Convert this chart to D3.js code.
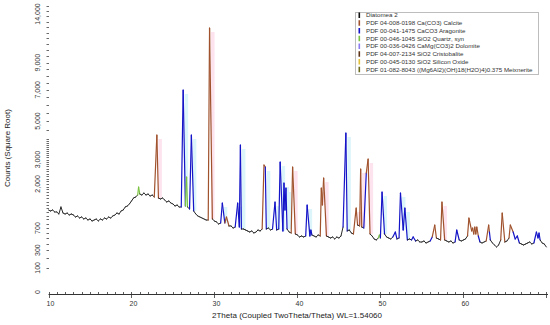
<!DOCTYPE html>
<html>
<head>
<meta charset="utf-8">
<script src="https://cdn.jsdelivr.net/npm/d3@7"></script>
<style>
	body { margin: 0; background: #fff; }
	svg { display: block; font-family: "Liberation Sans", Arial, sans-serif; }
</style>
</head>
<body>
<div id="chart"></div>
<script>
// phases of the pattern (legend order)
var phase_names = [
	'Diatomea 2',
	'PDF 04-008-0198 Ca(CO3) Calcite',
	'PDF 00-041-1475 CaCO3 Aragonite',
	'PDF 00-046-1045 SiO2 Quartz, syn',
	'PDF 00-036-0426 CaMg(CO3)2 Dolomite',
	'PDF 04-007-2134 SiO2 Cristobalite',
	'PDF 00-045-0130 SiO2 Silicon Oxide',
	'PDF 01-082-8043 ((Mg6Al2)(OH)18(H2O)4)0.375 Meixnerite'
];

// measured background (2theta, counts)
var bg_theta = [
	10.00,10.25,10.50,10.75,11.00,11.25,11.50,11.75,12.00,12.25,12.50,12.75,
	13.00,13.25,13.50,13.75,14.00,14.25,14.50,14.75,15.00,15.25,15.50,15.75,
	16.00,16.25,16.50,16.75,17.00,17.25,17.50,17.75,18.00,18.25,18.50,18.75,
	19.00,19.25,19.50,19.75,20.00,20.25,20.50,20.75,21.00,21.25,21.50,21.75,
	22.00,22.25,22.50,22.75,23.25,23.50,23.75,24.00,24.25,24.50,24.75,
	25.00,25.25,25.50,25.75,26.00,26.50,26.75,27.00,27.50,27.75,
	28.00,28.25,28.50,28.75,29.00,29.25,29.75,30.00,30.25,30.50,30.75,
	31.25,31.75,32.00,32.25,32.50,33.00,33.25,33.50,33.75,
	34.00,34.25,34.50,34.75,35.00,35.25,35.50,35.75,36.25,36.50,36.75,
	37.00,37.50,37.75,38.25,38.50,38.75,39.00,39.25,39.75,
	40.00,40.25,40.50,40.75,41.00,41.50,41.75,42.00,42.25,42.50,42.75,
	43.00,43.50,43.75,44.00,44.25,44.50,44.75,45.00,45.25,45.50,
	46.00,46.25,46.50,46.75,47.25,47.50,47.75,48.00,48.75,
	49.00,49.25,49.50,49.75,50.00,50.50,50.75,51.00,51.25,51.50,
	52.00,52.25,52.75,53.25,53.50,53.75,54.25,54.50,54.75,
	55.00,55.25,55.50,55.75,56.00,56.75,57.00,57.25,57.75,
	58.00,58.25,58.50,58.75,59.00,59.50,59.75,60.00,60.25,60.50,
	61.00,61.25,61.50,62.00,62.25,62.50,62.75,63.25,63.50,63.75,
	64.00,64.25,64.50,65.00,65.25,65.50,66.25,66.75,
	67.00,67.25,67.50,67.75,68.00,68.25,68.50,69.00,69.25,69.50,69.75,70.00
];
var bg_counts = [
	1151,1123,1151,1095,1095,1041,1237,1068,1041,1068,1015,1041,
	1015,963,989,937,963,912,937,887,912,863,887,912,
	863,912,887,937,912,963,937,989,1015,1068,1041,1123,
	1151,1237,1266,1325,1417,1512,1545,1610,1644,1610,1677,1610,
	1644,1577,1610,1545,1512,1480,1512,1449,1386,1417,1356,
	1325,1266,1295,1237,1237,1266,1237,1179,1123,1041,
	989,963,937,912,887,887,912,863,839,791,815,
	815,746,746,701,723,723,679,679,658,
	637,616,637,596,616,658,637,679,679,701,658,
	679,658,679,637,1151,679,616,596,576,
	556,518,537,518,537,537,556,537,518,556,537,
	1295,537,518,499,518,481,518,499,537,723,
	637,658,596,576,768,746,723,701,576,
	537,481,463,499,499,576,518,499,481,518,
	481,499,658,463,481,463,445,463,428,
	428,445,411,428,445,499,481,463,463,
	445,428,445,411,428,463,445,463,481,537,
	637,576,576,428,411,428,445,463,411,378,
	347,378,463,428,445,499,481,411,
	394,378,394,411,428,394,411,499,463,411,394,347
];

// identified reflections (apex 2theta, apex counts, phase index)
var peak_theta = [
	20.86,23.06,26.23,26.64,27.22,29.41,30.95,31.45,32.80,33.13,
	35.97,36.13,37.30,37.92,38.38,38.62,39.42,41.17,41.62,42.88,
	43.16,45.84,47.08,47.62,48.30,48.52,49.88,50.20,51.80,52.42,
	52.95,53.95,56.25,56.55,57.42,59.20,60.67,61.12,61.38,61.62,
	61.80,63.05,63.14,64.68,65.66,66.00,66.50,68.80,69.12
];
var peak_counts = [
	1887,4219,6983,2263,4219,11928,1356,963,1356,3698,
	2760,2674,1386,2892,2033,1851,2674,1295,658,1851,
	2224,4327,1208,2589,2424,3027,556,1711,616,1677,
	1208,518,518,768,1386,658,937,701,723,723,
	537,768,616,1068,768,616,537,616,596
];
var peak_phase = [
	3,1,2,3,2,1,2,1,2,2,
	1,2,2,2,2,2,1,2,2,1,
	1,2,1,1,2,1,3,2,2,2,
	2,2,2,1,1,2,1,1,1,1,
	2,1,2,1,1,2,2,2,2
];

// axis labels
var x_ticks = [10, 20, 30, 40, 50, 60];
var y_ticks = [0, 100, 300, 700, 2000, 3000, 5000, 7000, 9000, 14000];

var phase_colors = ['#111111', '#a0522d', '#1414c8', '#7cc242', '#8a7cf0', '#5c3317', '#e2c13a', '#6b6b1e'];
var band_colors  = { 1: '#fde3ee', 2: '#dcf5fa' };

var chart_width  = 550;
var chart_height = 325;
var axis_y       = 294;

var svg = d3.select('#chart')
	.append('svg')
	.attr('width', chart_width)
	.attr('height', chart_height);

var x_scale = d3.scaleLinear().domain([10, 70.2]).range([48.5, 548]);
var y_scale = d3.scaleSqrt().domain([0, 14000]).range([292, 6]);

// merge background and reflections into one profile
var profile = [];
bg_theta.forEach(function(t, i){ profile.push({ t: t, c: bg_counts[i], p: 0 }); });
peak_theta.forEach(function(t, i){ profile.push({ t: t, c: peak_counts[i], p: peak_phase[i] }); });
profile.sort(function(a, b){ return a.t - b.t; });

svg.append('clipPath').attr('id', 'plot')
	.append('rect').attr('x', 48).attr('y', 0).attr('width', 501).attr('height', axis_y);

var plot = svg.append('g').attr('clip-path', 'url(#plot)');

// faint reference bands behind strong reflections
var bands = profile.map(function(d, i){ return { d: d, next: profile[i + 1] }; })
	.filter(function(o){ return o.d.p && band_colors[o.d.p] && o.d.c > 1200; });

plot.selectAll('.band')
	.data(bands)
	.enter()
	.append('rect')
	.attr('class', 'band')
	.attr('x', function(o){ return x_scale(o.d.t) + 1.5; })
	.attr('y', function(o){ return y_scale(o.d.c) + 4; })
	.attr('width', 3.5)
	.attr('height', function(o){ return Math.max(0, y_scale(o.next.c) - y_scale(o.d.c) - 4); })
	.attr('fill', function(o){ return band_colors[o.d.p]; });

// profile drawn segment by segment, coloured by phase of the reflection
var segs = d3.pairs(profile);
plot.selectAll('.seg')
	.data(segs)
	.enter()
	.append('line')
	.attr('class', 'seg')
	.attr('x1', function(s){ return x_scale(s[0].t); })
	.attr('y1', function(s){ return y_scale(s[0].c); })
	.attr('x2', function(s){ return x_scale(s[1].t); })
	.attr('y2', function(s){ return y_scale(s[1].c); })
	.attr('stroke', function(s){
		var top = s[1].c > s[0].c ? s[1] : s[0];
		var other = top === s[1] ? s[0] : s[1];
		var p = top.p || other.p;
		return phase_colors[p];
	})
	.attr('stroke-width', function(s){ return (s[0].p || s[1].p) ? 1.2 : 0.9; })
	.attr('stroke-linecap', 'round');

// x axis
svg.append('line')
	.attr('x1', 48.5).attr('x2', 548)
	.attr('y1', axis_y + 0.5).attr('y2', axis_y + 0.5)
	.attr('stroke', '#333');

svg.selectAll('.xminor')
	.data(d3.range(10, 71, 1))
	.enter()
	.append('line')
	.attr('x1', function(d){ return Math.round(x_scale(d)) + 0.5; })
	.attr('x2', function(d){ return Math.round(x_scale(d)) + 0.5; })
	.attr('y1', axis_y - 2)
	.attr('y2', function(d){ return d % 10 === 0 ? axis_y + 4 : axis_y; })
	.attr('stroke', '#333')
	.attr('stroke-width', 0.8);

svg.selectAll('.xlab')
	.data(x_ticks)
	.enter()
	.append('text')
	.attr('x', function(d){ return x_scale(d) + 2; })
	.attr('y', 306)
	.attr('font-size', 7)
	.attr('fill', '#333')
	.attr('text-anchor', 'middle')
	.text(function(d){ return d; });

svg.append('text')
	.attr('x', 297)
	.attr('y', 318)
	.attr('font-size', 8)
	.attr('fill', '#222')
	.attr('text-anchor', 'middle')
	.text('2Theta (Coupled TwoTheta/Theta) WL=1.54060');

// y axis (ticks only)
var minor = d3.range(100, 4000, 100).concat(d3.range(4000, 14001, 500));
svg.selectAll('.yminor')
	.data(minor)
	.enter()
	.append('line')
	.attr('x1', 46.5).attr('x2', 49)
	.attr('y1', function(d){ return Math.round(y_scale(d)) + 0.5; })
	.attr('y2', function(d){ return Math.round(y_scale(d)) + 0.5; })
	.attr('stroke', '#444')
	.attr('stroke-width', 0.8);

svg.selectAll('.ylab')
	.data(y_ticks)
	.enter()
	.append('text')
	.attr('transform', function(d){ return 'translate(40,' + Math.max(y_scale(d), 14) + ') rotate(-90)'; })
	.attr('font-size', 7)
	.attr('fill', '#333')
	.attr('text-anchor', 'middle')
	.text(function(d){ return d3.format(',')(d); });

svg.append('text')
	.attr('transform', 'translate(10,148) rotate(-90)')
	.attr('font-size', 8)
	.attr('fill', '#222')
	.attr('text-anchor', 'middle')
	.text('Counts (Square Root)');

// legend
var legend = svg.append('g');
legend.append('rect')
	.attr('x', 355.5).attr('y', 12.5)
	.attr('width', 183).attr('height', 62)
	.attr('fill', '#fff')
	.attr('stroke', '#bdbdbd');

var rows = legend.selectAll('.row')
	.data(phase_names)
	.enter()
	.append('g')
	.attr('transform', function(d, i){ return 'translate(0,' + (15 + i * 7.75) + ')'; });

rows.append('rect')
	.attr('x', 358.5).attr('y', -2.5)
	.attr('width', 1.6).attr('height', 5.5)
	.attr('fill', function(d, i){ return phase_colors[i]; });

rows.append('text')
	.attr('x', 366).attr('y', 2.4)
	.attr('font-size', 6.2)
	.attr('fill', '#333')
	.text(function(d){ return d; });
</script>
</body>
</html>
